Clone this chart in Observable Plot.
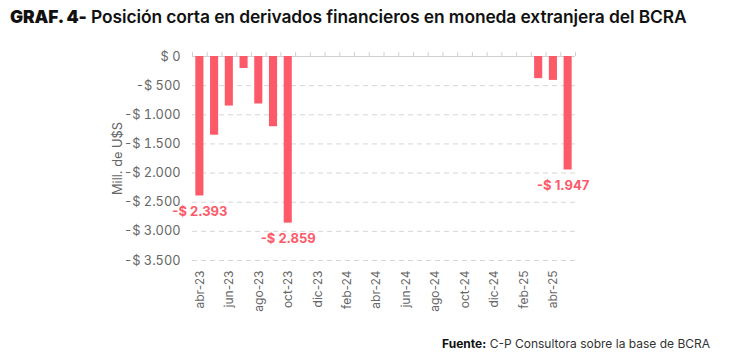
<!DOCTYPE html>
<html>
<head>
<meta charset="utf-8">
<script src="https://cdn.jsdelivr.net/npm/d3@7"></script>
<script src="https://cdn.jsdelivr.net/npm/@observablehq/plot@0.6"></script>
<style>
  html, body { margin: 0; padding: 0; background: #fff; }
  body { width: 730px; height: 354px; overflow: hidden; font-family: Inter, Lato, "Noto Sans", sans-serif; }
  #title { height: 35px; line-height: 34px; padding-left: 10px; font-size: 17.4px; font-weight: 600; color: #111; white-space: nowrap; letter-spacing: -0.1px; }
  #title b { font-weight: 900; }
  #chart svg { display: block; }
  #footer { height: 24px; line-height: 28px; text-align: right; padding-right: 20px; font-size: 12px; color: #333; }
  #footer b { font-weight: 700; color: #111; }
</style>
</head>
<body>
<div id="title"><b>GRAF. 4-</b> Posición corta en derivados financieros en moneda extranjera del BCRA</div>
<div id="chart"></div>
<div id="footer"><b>Fuente:</b> C-P Consultora sobre la base de BCRA</div>
<script>
const months = ["abr-23","may-23","jun-23","jul-23","ago-23","sep-23","oct-23","nov-23","dic-23",
  "ene-24","feb-24","mar-24","abr-24","may-24","jun-24","jul-24","ago-24","sep-24","oct-24","nov-24","dic-24",
  "ene-25","feb-25","mar-25","abr-25","may-25"];
const values = [-2393, -1350, -850, -205, -815, -1205, -2859,
  0, 0, 0, 0, 0, 0, 0, 0, 0, 0, 0, 0, 0, 0, 0, 0,
  -380, -410, -1947];
const labeledMonths = ["abr-23", "oct-23"];
const shiftedLabelMonths = ["may-25"];
const tickMonths = ["abr-23","jun-23","ago-23","oct-23","dic-23","feb-24","abr-24","jun-24","ago-24","oct-24","dic-24","feb-25","abr-25"];
const yTicks = [0, -500, -1000, -1500, -2000, -2500, -3000, -3500];

const data = months.map((m, i) => ({month: m, value: values[i]}));
const labeled = data.filter(d => labeledMonths.includes(d.month));
const labeledShifted = data.filter(d => shiftedLabelMonths.includes(d.month));

const fmtNum = v => d3.format(",")(Math.abs(v)).replace(/,/g, ".");
const fmtY = v => v === 0 ? "$ 0" : "-$ " + fmtNum(v);

const W = 730, ML = 192, MR = 155;
const step = (W - ML - MR) / months.length;
const labelStyle = {x: "month", y: "value", text: d => fmtY(d.value), dy: 16, fill: "#fd5a69", fontWeight: 700, fontSize: 13};

const chart = Plot.plot({
  width: W,
  height: 295,
  marginTop: 21,
  marginBottom: 70,
  marginLeft: ML,
  marginRight: MR,
  style: {fontFamily: "Inter, Lato, 'Noto Sans', sans-serif", color: "#666"},
  x: {type: "band", domain: months, paddingInner: 0.45, paddingOuter: 0.225, round: false, label: null},
  y: {domain: [-3500, 0], label: null},
  marks: [
    Plot.ruleY(yTicks.filter(v => v !== 0), {stroke: "#d6d6d6", strokeDasharray: "5,4", strokeWidth: 1}),
    Plot.ruleY([0], {stroke: "#d0d0d0", strokeWidth: 1.2}),
    Plot.ruleX(months, {x: d => d, dx: -step / 2, y1: 0, y2: 0, insetTop: -4, stroke: "#d0d0d0"}),
    Plot.ruleX([months[months.length - 1]], {x: d => d, dx: step / 2, y1: 0, y2: 0, insetTop: -4, stroke: "#d0d0d0"}),
    Plot.barY(data, {x: "month", y: "value", fill: "#fd5a69"}),
    Plot.text(labeled, labelStyle),
    Plot.text(labeledShifted, {...labelStyle, dx: -5}),
    Plot.axisY({ticks: yTicks, tickFormat: fmtY, tickSize: 0, tickPadding: 12, fontSize: 12.8, fill: "#666",
      label: "Mill. de U$S", labelAnchor: "center", labelArrow: "none", labelOffset: 80}),
    Plot.axisX({ticks: tickMonths, tickSize: 0, tickPadding: 10, tickRotate: -90, fontSize: 12, fill: "#666", label: null})
  ]
});
document.getElementById("chart").appendChild(chart);
</script>
</body>
</html>
